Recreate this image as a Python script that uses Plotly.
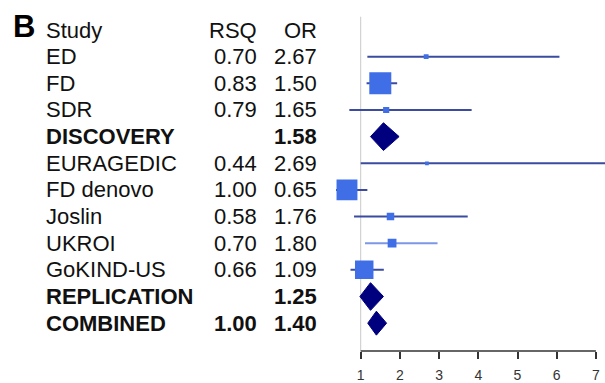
import plotly.graph_objects as go

# ---- data ----
studies = ["ED", "FD", "SDR", "DISCOVERY", "EURAGEDIC", "FD denovo", "Joslin",
           "UKROI", "GoKIND-US", "REPLICATION", "COMBINED"]
rsq = ["0.70", "0.83", "0.79", "", "0.44", "1.00", "0.58", "0.70", "0.66", "", "1.00"]
odds_ratio = [2.67, 1.50, 1.65, 1.58, 2.69, 0.65, 1.76, 1.80, 1.09, 1.25, 1.40]
ci_low = [1.17, 1.15, 0.71, 1.25, 1.00, 0.37, 0.83, 1.11, 0.74, 0.98, 1.18]
ci_high = [6.07, 1.93, 3.83, 1.98, 7.50, 1.17, 3.73, 2.96, 1.59, 1.58, 1.66]
weights = [0.22, 1.00, 0.28, None, 0.17, 0.95, 0.34, 0.40, 0.84, None, None]
is_summary = [False, False, False, True, False, False, False, False, False, True, True]
tick_vals = [1, 2, 3, 4, 5, 6, 7]

# ---- styles ----
W, H = 605, 383
FONT = "Liberation Sans, Arial, sans-serif"
TXT = "#111111"
LINE_C = "#3b4ca0"
LINE_LIGHT = "#7d97e6"
BOX_C = "#3f6ee6"
DIA_C = "#00007f"
MAX_BOX = 22
rows = list(range(1, len(studies) + 1))

fig = go.Figure()

# reference line at OR = 1
fig.add_shape(type="line", xref="x", yref="y", x0=1, x1=1, y0=-0.5, y1=12.05,
              line=dict(color="#c9c9c9", width=1), layer="below")

# CI lines
for i, r in enumerate(rows):
    if is_summary[i]:
        continue
    col = LINE_LIGHT if studies[i] == "UKROI" else LINE_C
    fig.add_trace(go.Scatter(x=[ci_low[i], ci_high[i]], y=[r, r], mode="lines",
                             line=dict(color=col, width=2), hoverinfo="skip",
                             showlegend=False))

# boxes
bx, by, bs = [], [], []
for i, r in enumerate(rows):
    if is_summary[i]:
        continue
    bx.append(odds_ratio[i]); by.append(r); bs.append(max(weights[i] * MAX_BOX, 3.5))
fig.add_trace(go.Scatter(x=bx, y=by, mode="markers",
                         marker=dict(symbol="square", size=bs, color=BOX_C, opacity=1,
                                     line=dict(width=0)),
                         showlegend=False, hoverinfo="skip"))

# diamonds
for i, r in enumerate(rows):
    if not is_summary[i]:
        continue
    h = 0.45 if studies[i] == "COMBINED" else 0.52
    fig.add_trace(go.Scatter(
        x=[ci_low[i], odds_ratio[i], ci_high[i], odds_ratio[i], ci_low[i]],
        y=[r, r - h, r, r + h, r], mode="lines", fill="toself",
        fillcolor=DIA_C, line=dict(color=DIA_C, width=1),
        showlegend=False, hoverinfo="skip"))

# x axis baseline from 1 to 7
fig.add_shape(type="line", xref="x", yref="paper", x0=tick_vals[0], x1=tick_vals[-1],
              y0=0, y1=0, line=dict(color="#333333", width=1.5))

# table text
x_study = 44 / W
x_rsq = 259 / W
x_or = 319 / W
ann = []
def txt(s, x, y, anchor, bold=False, size=22):
    ann.append(dict(text=f"<b>{s}</b>" if bold else s, x=x, y=y, xref="paper", yref="y",
                    xanchor=anchor, yanchor="middle", showarrow=False,
                    font=dict(family=FONT, size=size, color=TXT)))

txt("Study", x_study, 0, "left")
txt("RSQ", x_rsq, 0, "right")
txt("OR", x_or, 0, "right")
for i, r in enumerate(rows):
    b = is_summary[i]
    txt(studies[i], x_study, r, "left", bold=b)
    if rsq[i]:
        txt(rsq[i], x_rsq, r, "right", bold=b)
    txt(f"{odds_ratio[i]:.2f}", x_or, r, "right", bold=b)

ann.append(dict(text="<b>B</b>", x=11 / W, y=-0.12, xref="paper", yref="y",
                xanchor="left", yanchor="middle", showarrow=False,
                font=dict(family=FONT, size=31, color="#000000")))

# axis geometry: 1 -> 360.7 px, 39.2 px per unit
px1, ppu = 360.7, 39.2
dom0 = 0.54
xl = 1 - (px1 - dom0 * W) / ppu
xr = 1 + (W - px1) / ppu
row0, rstep = 30.2, 26.8
plot_h = 353
ytop = -row0 / rstep
ybot = (plot_h - row0) / rstep

fig.update_layout(
    width=W, height=H, margin=dict(l=0, r=0, t=0, b=H - plot_h),
    paper_bgcolor="white", plot_bgcolor="white",
    annotations=ann,
    xaxis=dict(domain=[dom0, 1], range=[xl, xr], showgrid=False, zeroline=False,
               showline=False, tickvals=tick_vals, ticks="outside", ticklen=7,
               tickwidth=1.5, tickcolor="#333333", ticklabelstandoff=4,
               tickfont=dict(family=FONT, size=14, color="#333333")),
    yaxis=dict(range=[ybot, ytop], visible=False, showgrid=False, zeroline=False),
)

fig.write_html("out.html")
